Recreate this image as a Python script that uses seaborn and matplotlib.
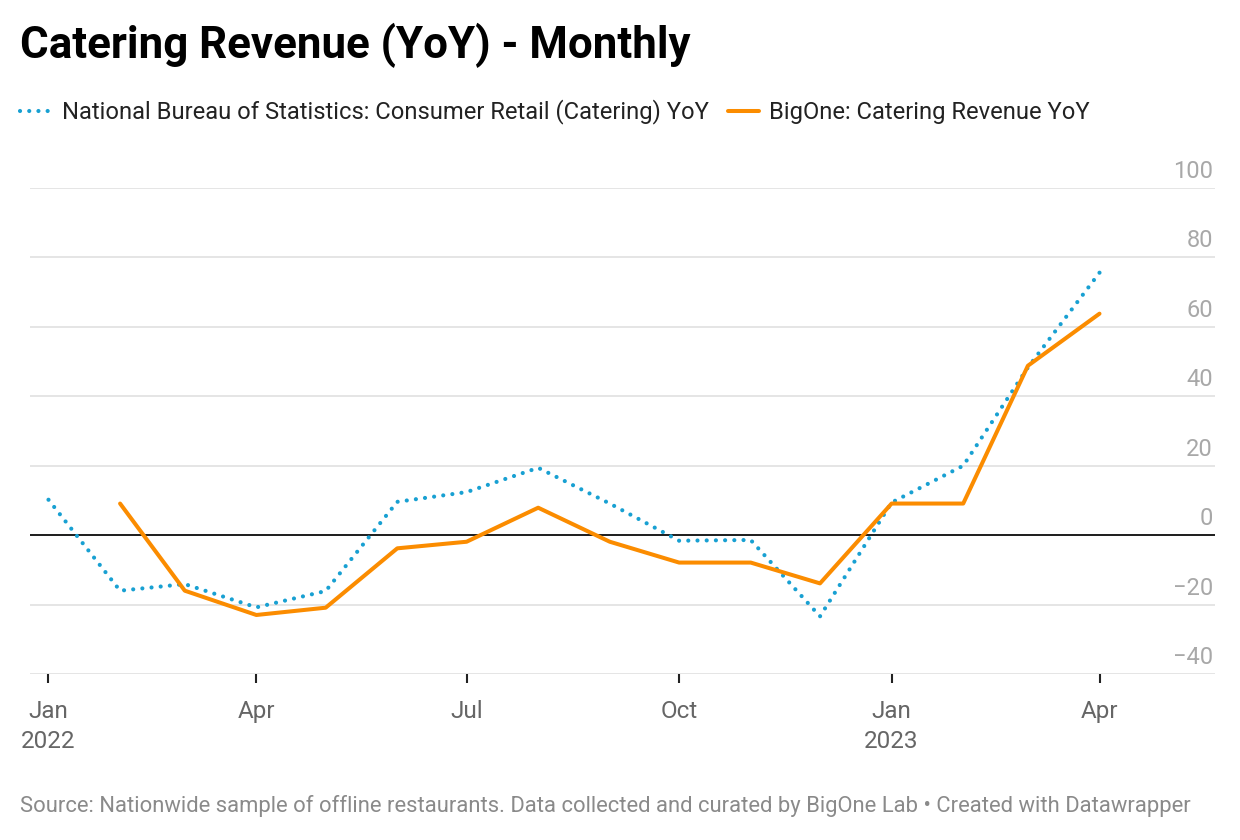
import matplotlib
matplotlib.use("Agg")
import matplotlib.pyplot as plt
import matplotlib.transforms as mtransforms
import seaborn as sns
import pandas as pd

# ---- data ----
nbs_months = pd.date_range("2022-01-01", "2023-04-01", freq="MS")
nbs_values = [10.2, -16.0, -14.1, -20.8, -16.1, 9.6, 12.4, 19.4, 9.1, -1.6, -1.4, -23.4,
              9.4, 20.0, 48.3, 75.6]
bigone_months = pd.date_range("2022-02-01", "2023-04-01", freq="MS")
bigone_values = [9.1, -16.0, -23.0, -20.9, -3.8, -1.9, 7.9, -1.9, -7.9, -7.9, -13.9,
                 9.1, 9.1, 48.8, 63.8]
nbs_label = "National Bureau of Statistics: Consumer Retail (Catering) YoY"
bigone_label = "BigOne: Catering Revenue YoY"
y_ticks = [-40, -20, 0, 20, 40, 60, 80, 100]
x_tick_dates = pd.to_datetime(["2022-01-01", "2022-04-01", "2022-07-01", "2022-10-01",
                               "2023-01-01", "2023-04-01"])
x_tick_labels = ["Jan\n2022", "Apr", "Jul", "Oct", "Jan\n2023", "Apr"]
title = "Catering Revenue (YoY) - Monthly"
source = ("Source: Nationwide sample of offline restaurants. Data collected and curated by "
          "BigOne Lab \u2022 Created with Datawrapper")

nbs_df = pd.DataFrame({"date": nbs_months, "value": nbs_values})
big_df = pd.DataFrame({"date": bigone_months, "value": bigone_values})

sns.set_theme(style="white")
plt.rcParams["font.family"] = ["Roboto", "DejaVu Sans"]

fig = plt.figure(figsize=(12.4, 8.4), dpi=100)
ax = fig.add_axes([30 / 1240, 1 - 674 / 840, (1215 - 30) / 1240, (674 - 188) / 840])

blue = "#18a0d2"
orange = "#fb8c00"

sns.lineplot(data=nbs_df, x="date", y="value", ax=ax, color=blue, linewidth=3.0,
             linestyle=(0, (0.01, 2.2)), dash_capstyle="round", label=nbs_label, zorder=3)
sns.lineplot(data=big_df, x="date", y="value", ax=ax, color=orange, linewidth=2.9,
             label=bigone_label, zorder=4)

ax.set_ylim(-40, 100)
ax.set_xlim(pd.Timestamp("2021-12-24"), pd.Timestamp("2023-05-21"))

# grid
ax.set_yticks(y_ticks)
ax.grid(axis="y", color="#e3e3e3", linewidth=1.3)
ax.grid(axis="x", visible=False)
ax.axhline(0, color="#1d1d1d", linewidth=1.4, zorder=2)
for s in ax.spines.values():
    s.set_visible(False)

# y labels: right side, sitting above the gridlines
ax.tick_params(axis="y", length=0, labelleft=False, labelright=False)
lab_tf = mtransforms.offset_copy(ax.get_yaxis_transform(), fig=fig, x=-2, y=10, units="dots")
for v in y_ticks:
    ax.text(1.0, v, f"{v}".replace("-", "\u2212"), transform=lab_tf, ha="right",
            va="baseline", fontsize=17, color="#a8a8a8")

# x ticks
ax.set_xticks(x_tick_dates)
ax.set_xticklabels(x_tick_labels, linespacing=1.4)
ax.tick_params(axis="x", length=6.5, width=1.5, color="#222222", direction="out",
               labelsize=17.5, labelcolor="#666666", pad=12, bottom=True)
for lbl in ax.get_xticklabels():
    lbl.set_horizontalalignment("center")

ax.set_xlabel("")
ax.set_ylabel("")

# legend
handles, labels = ax.get_legend_handles_labels()
ax.get_legend().remove()
fig.legend(handles, labels, loc="center left", bbox_to_anchor=(20 / 1240, 1 - 112 / 840),
           ncol=2, frameon=False, fontsize=17.15, handlelength=1.3, handletextpad=0.45,
           columnspacing=0.8, borderpad=0, borderaxespad=0, labelcolor="#222222")

fig.text(20 / 1240, 1 - 45 / 840, title, fontsize=31.6, fontweight="bold",
         color="#000000", va="center", ha="left")
fig.text(20 / 1240, 1 - 806 / 840, source, fontsize=15.8, color="#8a8a8a",
         va="center", ha="left")

fig.savefig("out.png", dpi=100)
